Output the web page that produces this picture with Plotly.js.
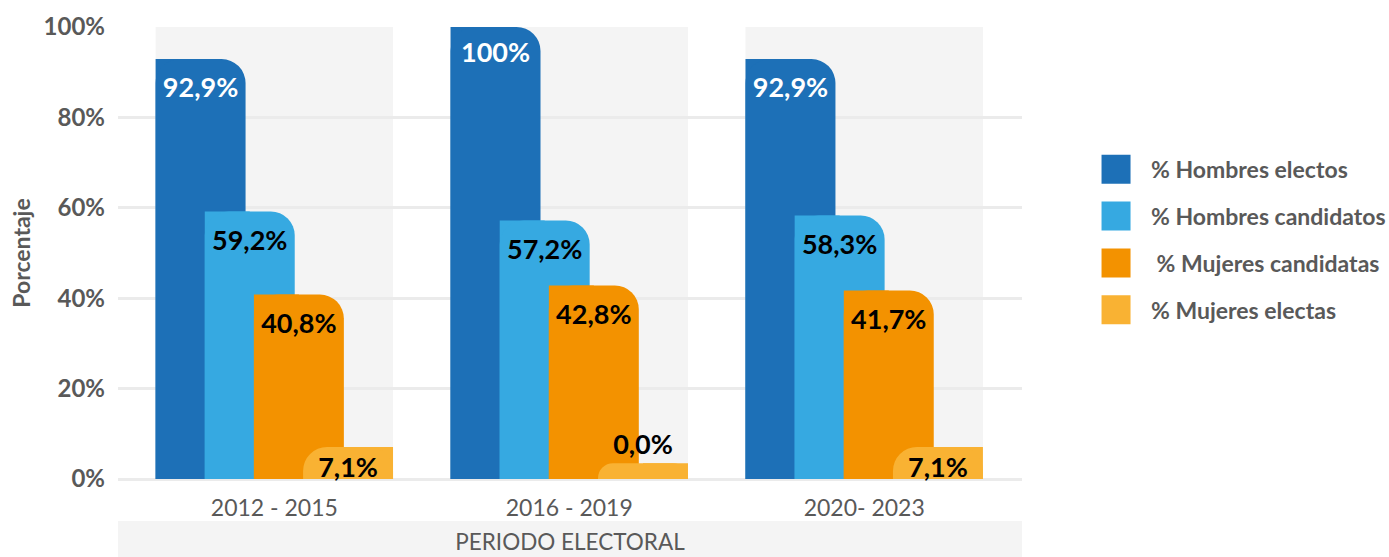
<!DOCTYPE html>
<html>
<head>
<meta charset="utf-8">
<script src="https://cdn.plot.ly/plotly-3.0.1.min.js"></script>
<style>html,body{margin:0;padding:0;background:#fff;}</style>
</head>
<body>
<div id="chart" style="width:1389px;height:557px;"></div>
<script>
// ---- data ----
const categories = ['2012 - 2015', '2016 - 2019', '2020- 2023'];
const hombresElectos = [92.9, 100, 92.9];
const hombresCandidatos = [59.2, 57.2, 58.3];
const mujeresCandidatas = [40.8, 42.8, 41.7];
const mujeresElectas = [7.1, 0.0, 7.1];
const seriesNames = ['% Hombres electos', '% Hombres candidatos', '\u00a0% Mujeres candidatas', '% Mujeres electas'];
const yTickVals = [0, 20, 40, 60, 80, 100];

// ---- style ----
const colors = ['#1d70b7', '#36a9e1', '#f39200', '#f9b233'];
const labelColors = ['#ffffff', '#000000', '#000000', '#000000'];
const roundSide = ['right', 'right', 'right', 'left'];
const textOnOwnLayer = [false, false, false, true]; // short bars: keep label full size
const BAR_W = 0.305;
const offsets = [-0.4025, -0.2358, -0.0692, 0.0975];
const MIN_VISIBLE = 3.5;   // zero values drawn as a small stub, as in the original
const RADIUS = 24;
const LABEL_SIZE = 27;

const allSeries = [hombresElectos, hombresCandidatos, mujeresCandidatas, mujeresElectas];

function fmt(v) {
  if (v === 100) return '100%';
  return v.toFixed(1).replace('.', ',') + '%';
}

const traces = [];
const lateTraces = [];
allSeries.forEach((vals, k) => {
  const shown = vals.map(v => Math.max(v, MIN_VISIBLE));
  const textProps = {
    text: vals.map(fmt),
    textposition: vals.map(v => v < 5 ? 'outside' : 'inside'),
    insidetextanchor: 'end',
    textangle: 0,
    constraintext: 'none',
    cliponaxis: false,
    textfont: {family: 'Lato', size: LABEL_SIZE, color: labelColors[k], weight: 'bold'},
    insidetextfont: {family: 'Lato', size: LABEL_SIZE, color: labelColors[k], weight: 'bold'},
    outsidetextfont: {family: 'Lato', size: LABEL_SIZE, color: '#000000', weight: 'bold'}
  };
  // square half that hides one rounded corner
  traces.push({
    type: 'bar', x: categories, y: shown,
    offset: offsets[k] + (roundSide[k] === 'right' ? 0 : BAR_W / 2),
    width: BAR_W / 2,
    marker: {color: colors[k], cornerradius: 0, line: {width: 0}},
    showlegend: false, hoverinfo: 'skip', legendgroup: 'g' + k
  });
  const main = {
    type: 'bar', x: categories, y: shown, name: seriesNames[k],
    legendgroup: 'g' + k,
    offset: offsets[k], width: BAR_W,
    marker: {color: colors[k], cornerradius: RADIUS, line: {width: 0}},
    hoverinfo: 'x+y'
  };
  if (!textOnOwnLayer[k]) {
    Object.assign(main, textProps);
  } else {
    lateTraces.push(Object.assign({
      type: 'bar', x: categories, y: shown,
      offset: offsets[k], width: BAR_W,
      marker: {color: 'rgba(0,0,0,0)', cornerradius: 0, line: {width: 0}},
      showlegend: false, hoverinfo: 'skip'
    }, textProps));
  }
  traces.push(main);
});
lateTraces.forEach(t => traces.push(t));

const shapes = categories.map((c, i) => ({
  type: 'rect', xref: 'x', yref: 'y', layer: 'below',
  x0: i + offsets[0], x1: i + offsets[3] + BAR_W, y0: 0, y1: 100,
  fillcolor: '#f4f4f4', line: {width: 0}
}));
shapes.push({
  type: 'rect', xref: 'paper', yref: 'paper', layer: 'below',
  x0: 0, x1: 1, y0: -78 / 452, y1: -42 / 452,
  fillcolor: '#f4f4f4', line: {width: 0}
});

const layout = {
  width: 1389, height: 557,
  margin: {l: 118, r: 367, t: 27, b: 78, autoexpand: false},
  paper_bgcolor: '#ffffff', plot_bgcolor: '#ffffff',
  font: {family: 'Lato, sans-serif', color: '#595959'},
  barmode: 'overlay',
  xaxis: {
    type: 'category', range: [-0.53, 2.535],
    showgrid: false, zeroline: false, showline: false, ticks: '',
    tickfont: {size: 23, color: '#595959'},
    ticklabelstandoff: 13,
    title: {text: 'PERIODO ELECTORAL', font: {size: 22.5, color: '#595959'}, standoff: 14}
  },
  yaxis: {
    range: [0, 100], tickvals: yTickVals, ticktext: yTickVals.map(v => v + '%'),
    gridcolor: '#ebebeb', gridwidth: 3,
    zeroline: true, zerolinecolor: '#ebebeb', zerolinewidth: 3,
    showline: false, ticks: '',
    tickfont: {size: 24, color: '#595959', weight: 'bold'},
    ticklabelstandoff: 12,
    title: {text: 'Porcentaje', font: {size: 23, color: '#595959', weight: 'bold'}, standoff: 6}
  },
  legend: {
    x: 1.0653, xanchor: 'left', y: 0.733, yanchor: 'top',
    font: {size: 23, color: '#595959', weight: 'bold'},
    tracegroupgap: 14, itemwidth: 60,
    bgcolor: 'rgba(0,0,0,0)'
  },
  shapes: shapes,
  showlegend: true
};

Plotly.newPlot('chart', traces, layout, {displayModeBar: false, staticPlot: true}).then(gd => {
  gd.querySelectorAll('.legend .legendpoints path').forEach(p => {
    p.setAttribute('d', 'M-14.5,-14.5H14.5V14.5H-14.5Z');
  });
});
</script>
</body>
</html>
